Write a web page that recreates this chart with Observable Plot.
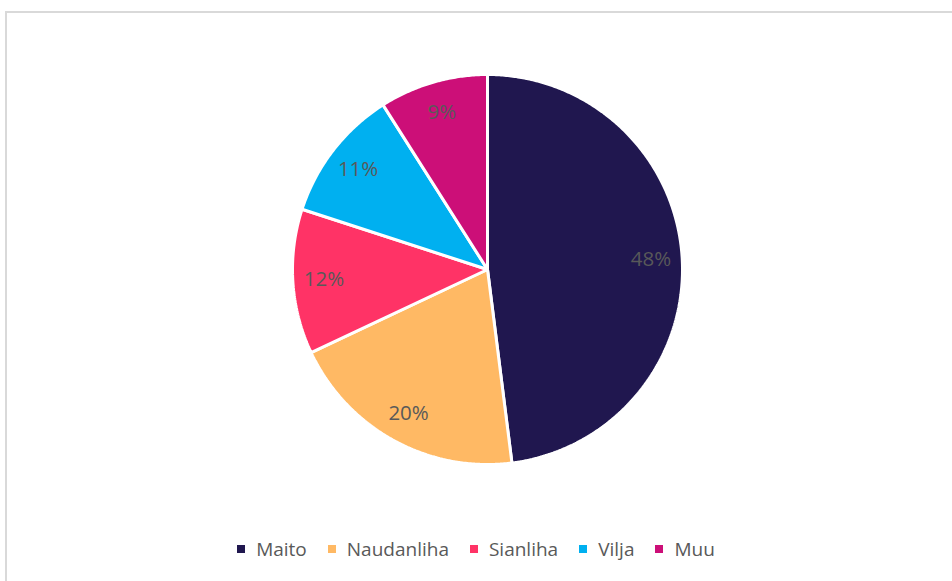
<!DOCTYPE html>
<html>
<head>
<meta charset="utf-8">
<script src="https://cdn.jsdelivr.net/npm/d3@7"></script>
<script src="https://cdn.jsdelivr.net/npm/@observablehq/plot@0.6"></script>
<style>
  html, body { margin: 0; padding: 0; background: #fff; }
  #wrap { position: relative; width: 952px; height: 581px; overflow: hidden; font-family: "Open Sans", sans-serif; }
  #frame { position: absolute; left: 5px; top: 11px; width: 1000px; height: 1000px; border: 2px solid #d9d9d9; box-sizing: border-box; }
  #chart { position: absolute; left: 0; top: 0; }
  #legend { position: absolute; left: 0; top: 536px; width: 952px; display: flex; justify-content: center; font-size: 19px; color: #595959; }
  .item { display: flex; align-items: center; }
  .sw { width: 8px; height: 8px; margin-right: 11px; }
</style>
</head>
<body>
<div id="wrap">
  <div id="frame"></div>
  <div id="chart"></div>
  <div id="legend"></div>
</div>
<script>
const categories = ["Maito", "Naudanliha", "Sianliha", "Vilja", "Muu"];
const values = [48, 20, 12, 11, 9];
const labels = ["48%", "20%", "12%", "11%", "9%"];
const colors = ["#20174f", "#ffb964", "#ff3366", "#00b0f0", "#cc0f78"];

const pie = d3.pie().sort(null).value(d => d.value)(categories.map((c, i) => ({name: c, value: values[i], label: labels[i], color: colors[i]})));

function slicePoints(a) {
  const pts = [{x: 0, y: 0}];
  const n = Math.max(2, Math.ceil((a.endAngle - a.startAngle) / (Math.PI / 360)));
  for (let k = 0; k <= n; k++) {
    const t = a.startAngle + (a.endAngle - a.startAngle) * k / n;
    pts.push({x: Math.sin(t), y: Math.cos(t)});
  }
  pts.push({x: 0, y: 0});
  return pts;
}

const labelData = pie.map(a => {
  const m = (a.startAngle + a.endAngle) / 2;
  return {x: 0.84 * Math.sin(m), y: 0.84 * Math.cos(m), label: a.data.label};
});

const W = 952, H = 530;
const cx = 487, cy = 269, r = 195;

const plot = Plot.plot({
  width: W,
  height: H,
  marginLeft: cx - r,
  marginRight: W - (cx + r),
  marginTop: cy - r,
  marginBottom: H - (cy + r),
  x: {domain: [-1, 1], axis: null},
  y: {domain: [-1, 1], axis: null},
  style: {background: "transparent", fontFamily: "Open Sans, sans-serif"},
  marks: [
    ...pie.map(a => Plot.line(slicePoints(a), {
      x: "x", y: "y", fill: a.data.color, stroke: "white", strokeWidth: 3, strokeLinejoin: "miter", curve: "linear"
    })),
    Plot.text(labelData, {x: "x", y: "y", text: "label", fill: "#595959", fontSize: 20.5, dy: 0})
  ]
});
document.getElementById("chart").appendChild(plot);

const legend = document.getElementById("legend");
categories.forEach((c, i) => {
  const it = document.createElement("div");
  it.className = "item";
  it.style.marginRight = i < categories.length - 1 ? "21px" : "0";
  const sw = document.createElement("div");
  sw.className = "sw";
  sw.style.background = colors[i];
  const tx = document.createElement("span");
  tx.textContent = c;
  it.appendChild(sw);
  it.appendChild(tx);
  legend.appendChild(it);
});
</script>
</body>
</html>
